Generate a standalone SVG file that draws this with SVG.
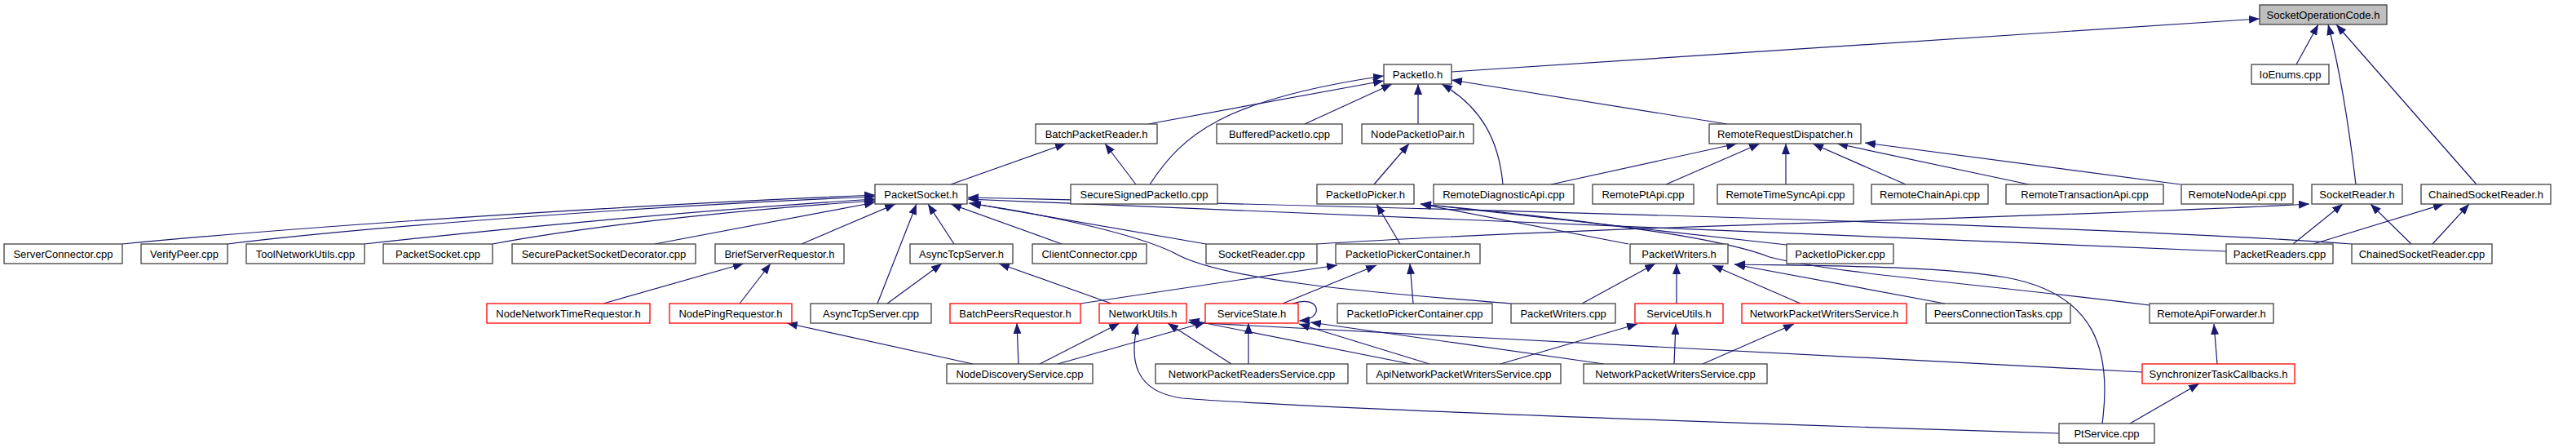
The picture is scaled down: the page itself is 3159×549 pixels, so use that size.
<svg xmlns="http://www.w3.org/2000/svg" width="3159" height="549" viewBox="0 0 3159 549">
<style>
.n rect{fill:#fff;stroke:#404040;stroke-width:1.3}
.n.r rect{stroke:#ff0000}
.n.root rect{fill:#bfbfbf}
.n text{font-family:"Liberation Sans",Arial,Helvetica,sans-serif;font-size:13px;fill:#000;text-anchor:middle}
#edges path{fill:none;stroke:#191970;stroke-width:1.2;marker-end:url(#ah)}
</style>
<defs>
<marker id="ah" markerUnits="userSpaceOnUse" markerWidth="14" markerHeight="10" refX="13" refY="5" orient="auto">
<path d="M0,0 L13,5 L0,10 z" fill="#191970"/>
</marker>
</defs>
<rect width="3159" height="549" fill="#fff"/>
<g id="edges">
<path d="M1780,88 L2771,23"/>
<path d="M2816,79 L2843,30"/>
<path d="M2889,226 C2880,150 2868,80 2855,30"/>
<path d="M3037,226 L2865,30"/>
<path d="M1408,152 L1697,99"/>
<path d="M1410,226 C1450,165 1500,122 1697,93"/>
<path d="M1600,152 L1707,103"/>
<path d="M1739,152 L1739,103"/>
<path d="M1843,226 C1838,170 1815,130 1768,103"/>
<path d="M2118,152 L1780,98"/>
<path d="M1393,226 L1355,176"/>
<path d="M1166,226 L1307,176"/>
<path d="M1685,226 L1728,176"/>
<path d="M1902,226 L2130,176"/>
<path d="M2043,226 L2158,176"/>
<path d="M2190,226 L2190,176"/>
<path d="M2337,226 L2223,176"/>
<path d="M2488,226 L2253,176"/>
<path d="M2674,226 L2287,175"/>
<path d="M150,299 C400,275 800,250 1073,239"/>
<path d="M279,299 C450,278 800,252 1073,241"/>
<path d="M447,299 C600,282 850,258 1073,244"/>
<path d="M604,299 C750,272 950,254 1073,246"/>
<path d="M803,299 L1073,248"/>
<path d="M983,299 L1098,250"/>
<path d="M1076,372 L1124,250"/>
<path d="M1170,299 L1138,250"/>
<path d="M1302,299 L1166,250"/>
<path d="M1479,299 L1190,249"/>
<path d="M1853,372 C1700,360 1500,345 1440,310 C1400,290 1300,265 1188,249"/>
<path d="M2730,308 L1187,244"/>
<path d="M2884,299 C2700,285 2200,265 1187,242"/>
<path d="M1615,299 C2000,275 2500,268 2832,250"/>
<path d="M2812,299 L2873,250"/>
<path d="M2957,299 L2907,250"/>
<path d="M2837,299 L2997,250"/>
<path d="M2983,299 L3028,250"/>
<path d="M1717,299 L1688,250"/>
<path d="M1997,299 L1742,250"/>
<path d="M2191,300 L1742,250"/>
<path d="M2636,374 C2400,345 2250,335 2170,315 C2120,295 2000,275 1742,250"/>
<path d="M740,372 L912,323"/>
<path d="M907,372 L945,323"/>
<path d="M1088,372 L1155,323"/>
<path d="M1363,372 L1225,323"/>
<path d="M1325,372 L1640,325"/>
<path d="M1573,372 L1688,325"/>
<path d="M1733,372 L1729,323"/>
<path d="M1940,372 L2030,323"/>
<path d="M2056,372 L2056,323"/>
<path d="M2208,372 L2100,325"/>
<path d="M2385,372 L2127,324"/>
<path d="M2578,519 C2590,430 2570,360 2460,340 C2380,326 2250,326 2127,324"/>
<path d="M1193,446 L965,396"/>
<path d="M1249,446 L1247,396"/>
<path d="M1275,446 L1373,396"/>
<path d="M1297,446 L1478,395"/>
<path d="M1510,446 L1432,396"/>
<path d="M1531,446 L1531,396"/>
<path d="M2525,531 C2100,518 1600,500 1450,488 C1390,480 1385,440 1395,397"/>
<path d="M2627,456 L1457,395"/>
<path d="M1730,446 L1458,392"/>
<path d="M1753,446 L1593,397"/>
<path d="M1967,446 L1607,395"/>
<path d="M1585,372 C1620,360 1625,392 1593,393"/>
<path d="M1840,446 L2008,397"/>
<path d="M2053,446 L2055,397"/>
<path d="M2088,446 L2200,397"/>
<path d="M2612,519 L2697,470"/>
<path d="M2719,446 L2715,397"/>
</g>
<g id="n_soc" class="n root"><rect x="2771" y="6" width="156" height="24"/><text x="2849" y="22.5">SocketOperationCode.h</text></g>
<g id="n_packetio_h" class="n"><rect x="1697" y="79" width="83" height="24"/><text x="1738.5" y="95.5">PacketIo.h</text></g>
<g id="n_ioenums" class="n"><rect x="2761" y="79" width="95" height="24"/><text x="2808.5" y="95.5">IoEnums.cpp</text></g>
<g id="n_batchpacketreader" class="n"><rect x="1270" y="152" width="149" height="24"/><text x="1344.5" y="168.5">BatchPacketReader.h</text></g>
<g id="n_bufferedpacketio" class="n"><rect x="1492" y="152" width="154" height="24"/><text x="1569" y="168.5">BufferedPacketIo.cpp</text></g>
<g id="n_nodepacketiopair" class="n"><rect x="1670" y="152" width="137" height="24"/><text x="1738.5" y="168.5">NodePacketIoPair.h</text></g>
<g id="n_rrd" class="n"><rect x="2096" y="152" width="186" height="24"/><text x="2189" y="168.5">RemoteRequestDispatcher.h</text></g>
<g id="n_packetsocket_h" class="n"><rect x="1073" y="226" width="113" height="24"/><text x="1129.5" y="242.5">PacketSocket.h</text></g>
<g id="n_securesigned" class="n"><rect x="1313" y="226" width="180" height="24"/><text x="1403" y="242.5">SecureSignedPacketIo.cpp</text></g>
<g id="n_packetiopicker_h" class="n"><rect x="1615" y="226" width="119" height="24"/><text x="1674.5" y="242.5">PacketIoPicker.h</text></g>
<g id="n_remotediag" class="n"><rect x="1758" y="226" width="172" height="24"/><text x="1844" y="242.5">RemoteDiagnosticApi.cpp</text></g>
<g id="n_remotept" class="n"><rect x="1953" y="226" width="124" height="24"/><text x="2015" y="242.5">RemotePtApi.cpp</text></g>
<g id="n_remotetimesync" class="n"><rect x="2106" y="226" width="167" height="24"/><text x="2189.5" y="242.5">RemoteTimeSyncApi.cpp</text></g>
<g id="n_remotechain" class="n"><rect x="2295" y="226" width="143" height="24"/><text x="2366.5" y="242.5">RemoteChainApi.cpp</text></g>
<g id="n_remotetx" class="n"><rect x="2460" y="226" width="193" height="24"/><text x="2556.5" y="242.5">RemoteTransactionApi.cpp</text></g>
<g id="n_remotenode" class="n"><rect x="2675" y="226" width="137" height="24"/><text x="2743.5" y="242.5">RemoteNodeApi.cpp</text></g>
<g id="n_socketreader_h" class="n"><rect x="2835" y="226" width="111" height="24"/><text x="2890.5" y="242.5">SocketReader.h</text></g>
<g id="n_chainedsocketreader_h" class="n"><rect x="2969" y="226" width="159" height="24"/><text x="3048.5" y="242.5">ChainedSocketReader.h</text></g>
<g id="n_serverconnector" class="n"><rect x="5" y="299" width="145" height="24"/><text x="77.5" y="315.5">ServerConnector.cpp</text></g>
<g id="n_verifypeer" class="n"><rect x="173" y="299" width="106" height="24"/><text x="226" y="315.5">VerifyPeer.cpp</text></g>
<g id="n_toolnetworkutils" class="n"><rect x="302" y="299" width="145" height="24"/><text x="374.5" y="315.5">ToolNetworkUtils.cpp</text></g>
<g id="n_packetsocket_cpp" class="n"><rect x="470" y="299" width="134" height="24"/><text x="537" y="315.5">PacketSocket.cpp</text></g>
<g id="n_securepacketsocketdecorator" class="n"><rect x="628" y="299" width="225" height="24"/><text x="740.5" y="315.5">SecurePacketSocketDecorator.cpp</text></g>
<g id="n_briefserverrequestor" class="n"><rect x="877" y="299" width="158" height="24"/><text x="956" y="315.5">BriefServerRequestor.h</text></g>
<g id="n_asynctcpserver_h" class="n"><rect x="1116" y="299" width="126" height="24"/><text x="1179" y="315.5">AsyncTcpServer.h</text></g>
<g id="n_clientconnector" class="n"><rect x="1266" y="299" width="140" height="24"/><text x="1336" y="315.5">ClientConnector.cpp</text></g>
<g id="n_socketreader_cpp" class="n"><rect x="1479" y="299" width="136" height="24"/><text x="1547" y="315.5">SocketReader.cpp</text></g>
<g id="n_pipc_h" class="n"><rect x="1638" y="299" width="177" height="24"/><text x="1726.5" y="315.5">PacketIoPickerContainer.h</text></g>
<g id="n_packetwriters_h" class="n"><rect x="1999" y="299" width="120" height="24"/><text x="2059" y="315.5">PacketWriters.h</text></g>
<g id="n_packetiopicker_cpp" class="n"><rect x="2191" y="299" width="131" height="24"/><text x="2256.5" y="315.5">PacketIoPicker.cpp</text></g>
<g id="n_packetreaders_cpp" class="n"><rect x="2730" y="299" width="131" height="24"/><text x="2795.5" y="315.5">PacketReaders.cpp</text></g>
<g id="n_chainedsocketreader_cpp" class="n"><rect x="2884" y="299" width="172" height="24"/><text x="2970" y="315.5">ChainedSocketReader.cpp</text></g>
<g id="n_nodenetworktimerequestor" class="n r"><rect x="597" y="372" width="200" height="24"/><text x="697" y="388.5">NodeNetworkTimeRequestor.h</text></g>
<g id="n_nodepingrequestor" class="n r"><rect x="821" y="372" width="150" height="24"/><text x="896" y="388.5">NodePingRequestor.h</text></g>
<g id="n_asynctcpserver_cpp" class="n"><rect x="994" y="372" width="148" height="24"/><text x="1068" y="388.5">AsyncTcpServer.cpp</text></g>
<g id="n_batchpeersrequestor" class="n r"><rect x="1165" y="372" width="160" height="24"/><text x="1245" y="388.5">BatchPeersRequestor.h</text></g>
<g id="n_networkutils" class="n r"><rect x="1348" y="372" width="107" height="24"/><text x="1401.5" y="388.5">NetworkUtils.h</text></g>
<g id="n_servicestate" class="n r"><rect x="1478" y="372" width="114" height="24"/><text x="1535" y="388.5">ServiceState.h</text></g>
<g id="n_pipc_cpp" class="n"><rect x="1640" y="372" width="190" height="24"/><text x="1735" y="388.5">PacketIoPickerContainer.cpp</text></g>
<g id="n_packetwriters_cpp" class="n"><rect x="1853" y="372" width="128" height="24"/><text x="1917" y="388.5">PacketWriters.cpp</text></g>
<g id="n_serviceutils" class="n r"><rect x="2005" y="372" width="108" height="24"/><text x="2059" y="388.5">ServiceUtils.h</text></g>
<g id="n_npws_h" class="n r"><rect x="2136" y="372" width="202" height="24"/><text x="2237" y="388.5">NetworkPacketWritersService.h</text></g>
<g id="n_peersconnectiontasks" class="n"><rect x="2362" y="372" width="177" height="24"/><text x="2450.5" y="388.5">PeersConnectionTasks.cpp</text></g>
<g id="n_remoteapiforwarder" class="n"><rect x="2636" y="372" width="152" height="24"/><text x="2712" y="388.5">RemoteApiForwarder.h</text></g>
<g id="n_nodediscoveryservice" class="n"><rect x="1161" y="446" width="179" height="24"/><text x="1250.5" y="462.5">NodeDiscoveryService.cpp</text></g>
<g id="n_nprs_cpp" class="n"><rect x="1417" y="446" width="236" height="24"/><text x="1535" y="462.5">NetworkPacketReadersService.cpp</text></g>
<g id="n_apinpws_cpp" class="n"><rect x="1676" y="446" width="238" height="24"/><text x="1795" y="462.5">ApiNetworkPacketWritersService.cpp</text></g>
<g id="n_npws_cpp" class="n"><rect x="1942" y="446" width="225" height="24"/><text x="2054.5" y="462.5">NetworkPacketWritersService.cpp</text></g>
<g id="n_synchronizertaskcallbacks" class="n r"><rect x="2627" y="446" width="187" height="24"/><text x="2720.5" y="462.5">SynchronizerTaskCallbacks.h</text></g>
<g id="n_ptservice" class="n"><rect x="2525" y="519" width="117" height="24"/><text x="2583.5" y="535.5">PtService.cpp</text></g>
</svg>
